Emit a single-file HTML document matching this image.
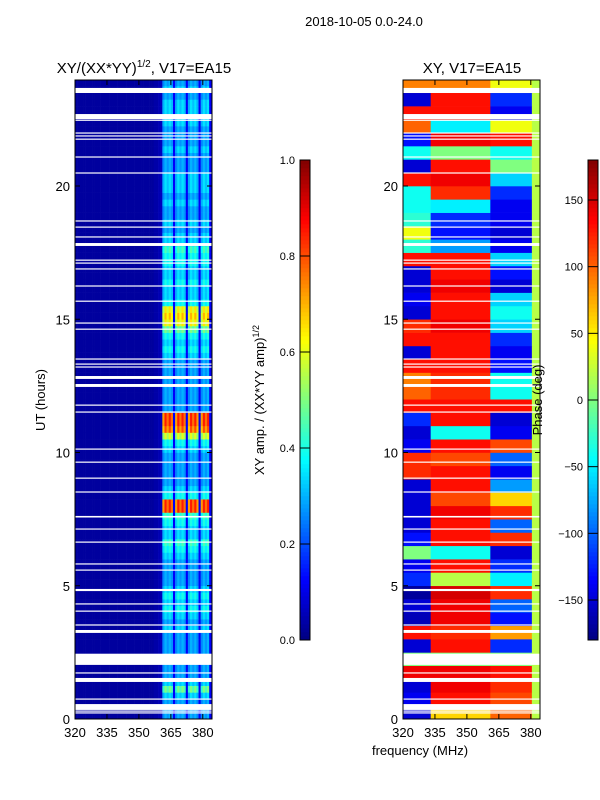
<!DOCTYPE html>
<html><head><meta charset="utf-8"><style>
body{margin:0;background:#fff;}
svg{display:block;font-family:"Liberation Sans",sans-serif;}
</style></head><body>
<svg id="fig" width="600" height="800" xmlns="http://www.w3.org/2000/svg">
<text x="364" y="26" font-size="13" text-anchor="middle">2018-10-05 0.0-24.0</text>
<text x="144" y="73" font-size="15" text-anchor="middle">XY/(XX*YY)<tspan font-size="10" dy="-6">1/2</tspan><tspan dy="6">, V17=EA15</tspan></text>
<text x="472" y="73" font-size="15" text-anchor="middle">XY, V17=EA15</text>
<g id="ampPanel"></g>
<g id="phPanel"></g>
<g id="axes"></g>
<text transform="translate(45,400) rotate(-90)" font-size="13" text-anchor="middle">UT (hours)</text>
<text x="420" y="755" font-size="13" text-anchor="middle">frequency (MHz)</text>
<text transform="translate(264,400) rotate(-90)" font-size="13" text-anchor="middle">XY amp. / (XX*YY amp)<tspan font-size="9" dy="-5">1/2</tspan></text>
<text transform="translate(542,400) rotate(-90)" font-size="13" text-anchor="middle">Phase (deg)</text>
</svg>
<script>
// ---- data ----
const timeTicks=[0,5,10,15,20];
const freqTicks=[320,335,350,365,380];
const ampTicks=[0.0,0.2,0.4,0.6,0.8,1.0];
const phaseTicks=[-150,-100,-50,0,50,100,150];
// channel response (1 MHz channels 320..384)
const chanResp=[0.03,0.03,0.03,0.03,0.03,0.03,0.03,0.03,0.03,0.03,0.03,0.03,0.03,0.03,0.03,0.03,0.03,0.03,0.03,0.03,0.03,0.03,0.03,0.03,0.03,0.03,0.03,0.03,0.03,0.03,0.03,0.03,0.03,0.03,0.03,0.03,0.03,0.04,0.04,0.05,0.06,0.85,1.0,0.9,1.0,0.9,0.12,0.85,1.0,0.9,1.0,0.9,0.12,0.85,1.0,0.9,1.0,0.85,0.12,0.85,1.0,0.9,1.0,0.12,0.06];
// amplitude per 0.25 h row
const rowAmp=[.3,.3,.3,.35,.5,.35,.3,.3,.3,.3,.3,.3,.3,.35,.3,.35,.4,.35,.4,.35,.3,.3,.3,.3,.35,.4,.45,.35,.35,.4,.45,.85,.85,.4,.35,.3,.3,.3,.3,.3,.35,.4,.6,.8,.85,.85,.3,.3,.3,.3,.3,.3,.3,.3,.35,.4,.35,.4,.5,.65,.7,.65,.4,.35,.35,.4,.35,.35,.4,.4,.45,.35,.35,.3,.35,.3,.3,.35,.3,.35,.35,.35,.3,.3,.3,.35,.3,.3,.3,.35,.35,.35,.35,.3,.35,.3];
// phase per 0.5 h row: three frequency regions
const phaseLow=[-150,-140,-150,140,0,-150,130,-160,-150,-170,-120,-140,0,-130,-150,-150,-150,-150,120,120,-140,-150,-120,130,100,90,130,-150,130,120,-150,-140,-150,-150,130,-30,40,-30,-40,-40,130,-150,-40,-130,100,130,-150,90];
const phaseMid=[60,130,140,140,0,130,120,140,140,150,20,130,-40,130,130,140,110,130,130,110,130,-40,130,130,120,120,130,130,130,140,130,130,140,130,130,-80,-130,-120,-50,120,140,130,0,140,-50,130,130,90];
const phaseHigh=[100,110,120,130,0,-120,80,-130,-100,120,-50,-120,-150,120,-100,120,60,-80,-140,-100,110,-140,-150,130,-40,-40,-130,-140,-120,-60,-40,-60,-150,-130,-60,-140,-150,-140,-140,-120,-60,0,-40,130,40,-140,-120,40];
const edgePhase=20;
// flagged (blank) intervals in hours
const gaps=[[0.21,0.25],[0.28,0.32],[0.34,0.56],[0.73,0.77],[1.39,1.54],[1.71,1.75],[2.03,2.45],[3.23,3.34],[3.51,3.55],[4.03,4.07],[4.30,4.34],[4.80,4.88],[5.57,5.61],[5.80,5.84],[6.62,6.66],[7.11,7.15],[7.56,7.62],[8.50,8.54],[9.02,9.06],[9.62,9.66],[10.11,10.15],[11.50,11.54],[11.76,11.80],[12.46,12.57],[12.76,12.87],[13.19,13.23],[13.30,13.34],[13.49,13.53],[14.61,14.65],[14.84,14.88],[15.66,15.70],[16.23,16.27],[16.87,16.91],[17.09,17.13],[17.20,17.24],[17.75,17.86],[18.07,18.11],[18.44,18.48],[18.67,18.71],[20.47,20.51],[21.07,21.11],[21.74,21.78],[21.86,21.90],[21.97,22.01],[22.45,22.49],[22.51,22.70],[23.49,23.68]];
// ---- scales ----
const Y0=719,Y1=80,TMAX=(Y0-Y1)/26.65;
const y=t=>Y0-t*26.65;
const FMIN=320,FMAX=320+137/2.13;
const xA=f=>75+(f-FMIN)*2.13;
const xP=f=>403+(f-FMIN)*2.13;
function jet(v){v=Math.max(0,Math.min(1,v));
 const c=x=>Math.round(255*Math.max(0,Math.min(1,x)));
 const r=1.5-Math.abs(4*v-3),g=1.5-Math.abs(4*v-2),b=1.5-Math.abs(4*v-1);
 return `rgb(${c(r)},${c(g)},${c(b)})`;}
const NS="http://www.w3.org/2000/svg";
function mk(tag,attrs,parent){const e=document.createElementNS(NS,tag);for(const k in attrs)e.setAttribute(k,attrs[k]);parent.appendChild(e);return e;}
const amp=document.getElementById('ampPanel');
const ph=document.getElementById('phPanel');
const ax=document.getElementById('axes');
// amplitude cells
for(let i=0;i<rowAmp.length;i++){
 const t0=i*0.25,t1=Math.min(TMAX,t0+0.25);
 for(let j=0;j<chanResp.length;j++){
  const f0=FMIN+j,f1=Math.min(FMAX,f0+1);if(f0>=FMAX)break;
  const v=chanResp[j]>0.5?chanResp[j]*rowAmp[i]:chanResp[j];
  const r=mk('rect',{x:xA(f0),y:y(t1),width:xA(f1)-xA(f0)+0.3,height:y(t0)-y(t1)+0.3,fill:jet(v)},amp);
  
  
 }}
// phase cells
const regions=[[320,333,phaseLow],[333,361,phaseMid],[361,380.5,phaseHigh]];
for(let i=0;i<phaseLow.length;i++){
 const t0=i*0.5,t1=Math.min(TMAX,t0+0.5);
 regions.forEach(([a,b,arr])=>{
  const r=mk('rect',{x:xP(a),y:y(t1),width:xP(b)-xP(a)+0.3,height:y(t0)-y(t1)+0.3,fill:jet((arr[i]+180)/360)},ph);
  
  
 });
 const r=mk('rect',{x:xP(380.5),y:y(t1),width:xP(FMAX)-xP(380.5),height:y(t0)-y(t1)+0.3,fill:jet((edgePhase+180)/360)},ph);
 
 
}
// gaps
gaps.forEach(([a,b])=>{
 [[75,212],[403,540]].forEach(([l,rr])=>{
  const g=mk('rect',{x:l,y:y(b),width:rr-l,height:Math.max(1.2,y(a)-y(b)),fill:'#fff'},ax);
  
  
 });});
// frames and ticks
[[75,xA],[403,xP]].forEach(([L,sx])=>{
 const fr=mk('rect',{x:L,y:Y1,width:137,height:Y0-Y1,fill:'none',stroke:'#000','stroke-width':1},ax);
 
 
 timeTicks.forEach(t=>{
  mk('line',{x1:L,x2:L+5,y1:y(t),y2:y(t),stroke:'#000'},ax);
  mk('line',{x1:L+137,x2:L+132,y1:y(t),y2:y(t),stroke:'#000'},ax);
  const tx=mk('text',{x:L-5,y:y(t)+5,'font-size':13,'text-anchor':'end'},ax);tx.textContent=t;
  
  
 });
 freqTicks.forEach(f=>{
  mk('line',{x1:sx(f),x2:sx(f),y1:Y0,y2:Y0-5,stroke:'#000'},ax);
  mk('line',{x1:sx(f),x2:sx(f),y1:Y1,y2:Y1+5,stroke:'#000'},ax);
  const tx=mk('text',{x:sx(f),y:Y0+18,'font-size':13,'text-anchor':'middle'},ax);tx.textContent=f;
  
  
 });
});
// colorbars
function cbar(X,vmin,vmax,ticks,fmt,name){
 const g=mk('g',{},ax);
 
 
 const top=160,bot=640;
 for(let k=0;k<120;k++){mk('rect',{x:X,y:bot-(k+1)*4,width:10,height:4.3,fill:jet((k+0.5)/120)},g);}
 mk('rect',{x:X,y:top,width:10,height:bot-top,fill:'none',stroke:'#000'},g);
 ticks.forEach(v=>{const yy=bot-(v-vmin)/(vmax-vmin)*(bot-top);
  mk('line',{x1:X,x2:X+10,y1:yy,y2:yy,stroke:'#000'},g);
  const tx=mk('text',{x:X-5,y:yy+4,'font-size':11,'text-anchor':'end'},g);tx.textContent=fmt(v);
  
  });
}
cbar(300,0,1,ampTicks,v=>v.toFixed(1),'amp-colorbar');
cbar(588,-180,180,phaseTicks,v=>String(v).replace('-','\u2212'),'phase-colorbar');
</script>
</body></html>
